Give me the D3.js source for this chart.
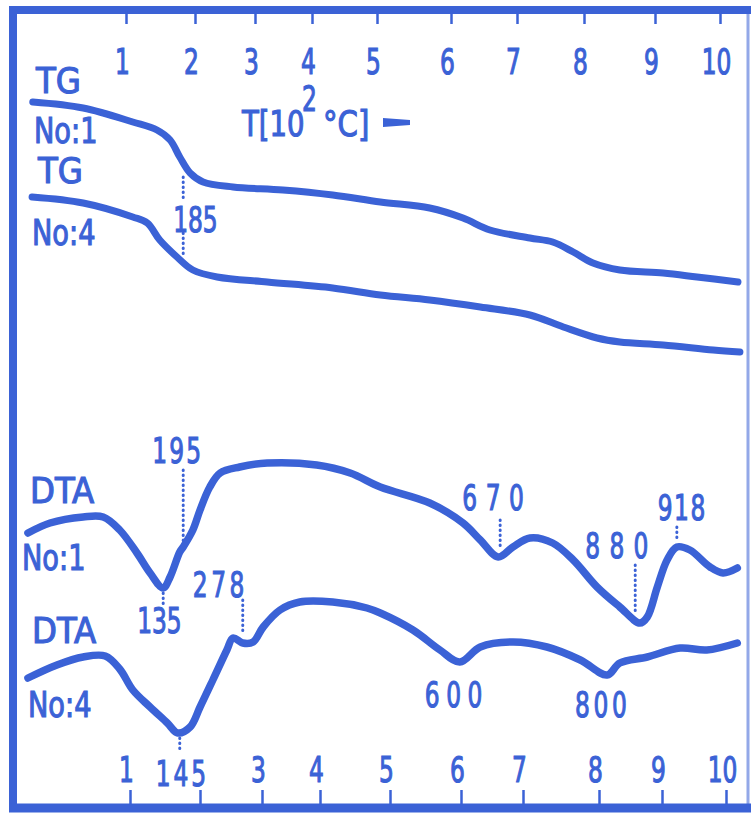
<!DOCTYPE html>
<html>
<head>
<meta charset="utf-8">
<script src="https://cdn.jsdelivr.net/npm/d3@7"></script>
<style>
  body { margin: 0; background: #fff; }
  text { font-family: "Liberation Sans Narrow", "DejaVu Sans Condensed", sans-serif; fill: #3b62d6;
         stroke: #3b62d6; stroke-width: 1.1px; }
</style>
</head>
<body>
<div id="chart"></div>
<script>
// temperature axis, °C (labels are in 10^2 °C)
var tempTicks = [100, 200, 300, 400, 500, 600, 700, 800, 900, 1000];
var topTickLabels = ["1", "2", "3", "4", "5", "6", "7", "8", "9", "10"];
// "2" on the bottom axis is covered by the 145 label
var bottomTickLabels = ["1", "", "3", "4", "5", "6", "7", "8", "9", "10"];

// curves: [temperature °C, signal (arbitrary units, each curve offset)]
var tg1 = [[-38, 69.8], [35, 69.2], [107, 67.8], [142, 67.0], [161, 66.0], [175, 64.3], [190, 62.7],
  [210, 61.8], [259, 61.3], [343, 61.0], [425, 60.5], [496, 59.8], [564, 59.2], [611, 58.2],
  [653, 57.0], [714, 56.2], [746, 55.8], [775, 54.8], [803, 53.7], [843, 53.0], [908, 52.7],
  [960, 52.3], [1023, 51.8]];
var tg4 = [[-39, 60.3], [35, 59.7], [107, 58.3], [128, 57.7], [146, 56.0], [171, 54.3], [194, 53.0],
  [233, 52.3], [316, 51.8], [425, 51.2], [496, 50.5], [564, 50.0], [638, 49.3], [714, 48.5],
  [761, 47.3], [809, 46.2], [843, 45.8], [908, 45.5], [985, 45.0], [1026, 44.8]];
var dta1 = [[-45, 26.7], [-13, 27.7], [35, 28.3], [64, 28.3], [88, 27.0], [113, 24.7], [132, 22.7],
  [151, 21.2], [161, 22.3], [175, 24.8], [180, 25.3], [194, 27.0], [205, 29.0], [221, 31.3],
  [238, 32.7], [270, 33.3], [316, 33.7], [401, 33.5], [451, 32.7], [496, 31.3], [564, 29.7],
  [611, 27.7], [638, 26.0], [666, 24.3], [689, 25.3], [714, 26.2], [746, 25.7], [775, 24.0],
  [809, 21.3], [843, 19.3], [873, 17.7], [884, 18.3], [899, 21.3], [914, 24.0], [929, 25.3],
  [949, 25.0], [980, 23.3], [1000, 22.7], [1022, 23.2]];
var dta4 = [[-45, 12.2], [-3, 13.5], [35, 14.3], [67, 14.4], [88, 13.1], [107, 11.0], [132, 9.3],
  [157, 7.7], [172, 6.7], [190, 7.3], [205, 9.3], [226, 12.0], [249, 15.0], [259, 16.2],
  [275, 15.7], [292, 15.8], [309, 17.3], [338, 19.0], [372, 19.8], [425, 19.8], [476, 19.2],
  [496, 18.7], [541, 17.0], [578, 15.0], [606, 13.8], [638, 15.3], [689, 15.8], [738, 15.3],
  [785, 14.0], [824, 12.5], [843, 13.7], [884, 14.3], [934, 15.2], [975, 15.0], [1022, 15.7]];

// marked temperatures: label, position (°C), dotted line span (signal units)
var markers = [
  {label: "185", t: 180, lines: [[62.3, 60.2], [56.7, 54.3]]},
  {label: "195", t: 180, lines: [[33.0, 25.5]]},
  {label: "135", t: 151, lines: [[20.7, 19.6]]},
  {label: "278", t: 275, lines: [[20.0, 16.5]]},
  {label: "670", t: 669, lines: [[28.0, 25.0]]},
  {label: "880", t: 866, lines: [[23.5, 18.7]]},
  {label: "918", t: 929, lines: [[27.3, 26.0]]},
  {label: "145", t: 175, lines: [[6.2, 4.7]]},
  {label: "600", t: 606, lines: []},
  {label: "800", t: 824, lines: []}
];

var curveNames = [
  {top: "TG", sub: "No:1"}, {top: "TG", sub: "No:4"},
  {top: "DTA", sub: "No:1"}, {top: "DTA", sub: "No:4"}
];

// ---- layout ----
var W = 751, H = 813;
var blue = "#3b62d6";
var FS = 36, NARROW = 0.72;
var svg = d3.select("#chart").append("svg").attr("width", W).attr("height", H);

// text squeezed horizontally, like the printed lettering
function label(px, py, str, sx, spacing) {
  return svg.append("text")
    .attr("transform", "translate(" + px + "," + py + ") scale(" + sx + ",1)")
    .attr("font-size", FS).attr("letter-spacing", spacing || 0).text(str);
}

// the printed temperature scale is not uniform
var x = d3.scaleLinear().domain(tempTicks).range([128, 197, 258, 316, 383, 456, 520, 591, 658, 723]);
var xTop = d3.scaleLinear().domain(tempTicks).range([126, 195, 255, 312, 377, 451, 517, 584, 655, 720]);
var xBot = d3.scaleLinear().domain(tempTicks).range([130, 200, 262, 320, 390, 461, 523, 599, 662, 726]);
var y = d3.scaleLinear().domain([0, 80]).range([800, 0]);

// frame
svg.append("line").attr("x1", 13).attr("x2", 13).attr("y1", 6).attr("y2", 812)
  .attr("stroke", blue).attr("stroke-width", 8);
svg.append("line").attr("x1", 9).attr("x2", 751).attr("y1", 10).attr("y2", 10)
  .attr("stroke", blue).attr("stroke-width", 8);
svg.append("line").attr("x1", 9).attr("x2", 751).attr("y1", 808).attr("y2", 808)
  .attr("stroke", blue).attr("stroke-width", 9);
svg.append("line").attr("x1", 748).attr("x2", 748).attr("y1", 10).attr("y2", 808)
  .attr("stroke", blue).attr("stroke-width", 3).attr("opacity", 0.55);

// axes
var gTop = svg.append("g").attr("transform", "translate(0,10)")
  .call(d3.axisBottom(xTop).tickValues(tempTicks).tickSize(14).tickFormat(function(d, i) { return topTickLabels[i]; }));
var gBot = svg.append("g").attr("transform", "translate(0,805)")
  .call(d3.axisTop(xBot).tickValues(tempTicks).tickSize(15).tickFormat(function(d, i) { return bottomTickLabels[i]; }));
[gTop, gBot].forEach(function(g) {
  g.select(".domain").remove();
  g.selectAll(".tick line").attr("stroke", blue).attr("stroke-width", 2.5);
  g.selectAll(".tick text").attr("fill", blue).attr("font-size", FS).attr("font-family", null)
    .attr("dy", 0).attr("y", 0);
});
gTop.selectAll(".tick text").attr("transform", "translate(-4,64) scale(" + NARROW + ",1)");
gBot.selectAll(".tick text").attr("transform", "translate(-4,-23) scale(" + NARROW + ",1)");

// axis title T[10^2 °C] ->
label(242, 136, "T[10", 0.85);
label(302, 111, "2", NARROW);
label(323, 136, "°C]", 0.9);
svg.append("path").attr("d", "M383,118 L410,120 L410,125 L383,127 Z").attr("fill", blue);

// curves
var line = d3.line().x(function(d) { return x(d[0]); }).y(function(d) { return y(d[1]); })
  .curve(d3.curveCatmullRom.alpha(0.5));
[tg1, tg4, dta1, dta4].forEach(function(c, i) {
  svg.append("path").attr("d", line(c)).attr("fill", "none").attr("stroke", blue)
    .attr("stroke-width", i < 2 ? 7 : 7.5).attr("stroke-linecap", "round").attr("stroke-linejoin", "round");
});

// curve names
var namePos = [[36, 93, 34, 143], [38, 183, 32, 245], [30, 503, 22, 570], [32, 643, 28, 717]];
curveNames.forEach(function(n, i) {
  var p = namePos[i];
  label(p[0], p[1], n.top, 1);
  label(p[2], p[3], n.sub, 0.84);
});

// markers: label offset from the dotted line, baseline, letter spacing
var labelPos = {
  "185": [-10, 232, 0], "195": [-31, 463, 3], "135": [-26, 633, 0], "278": [-50, 597, 5],
  "670": [-38, 510, 12], "880": [-50, 558, 13], "918": [-19, 520, 2], "145": [-24, 786, 4],
  "600": [-35, 707, 9], "800": [-32, 717, 5]
};
markers.forEach(function(m) {
  var mx = x(m.t);
  m.lines.forEach(function(s) {
    svg.append("line").attr("x1", mx).attr("x2", mx).attr("y1", y(s[0])).attr("y2", y(s[1]))
      .attr("stroke", blue).attr("stroke-width", 3).attr("stroke-dasharray", "0.5,4.5")
      .attr("stroke-linecap", "round");
  });
  var lp = labelPos[m.label];
  label(mx + lp[0], lp[1], m.label, NARROW, lp[2]);
});
</script>
</body>
</html>
